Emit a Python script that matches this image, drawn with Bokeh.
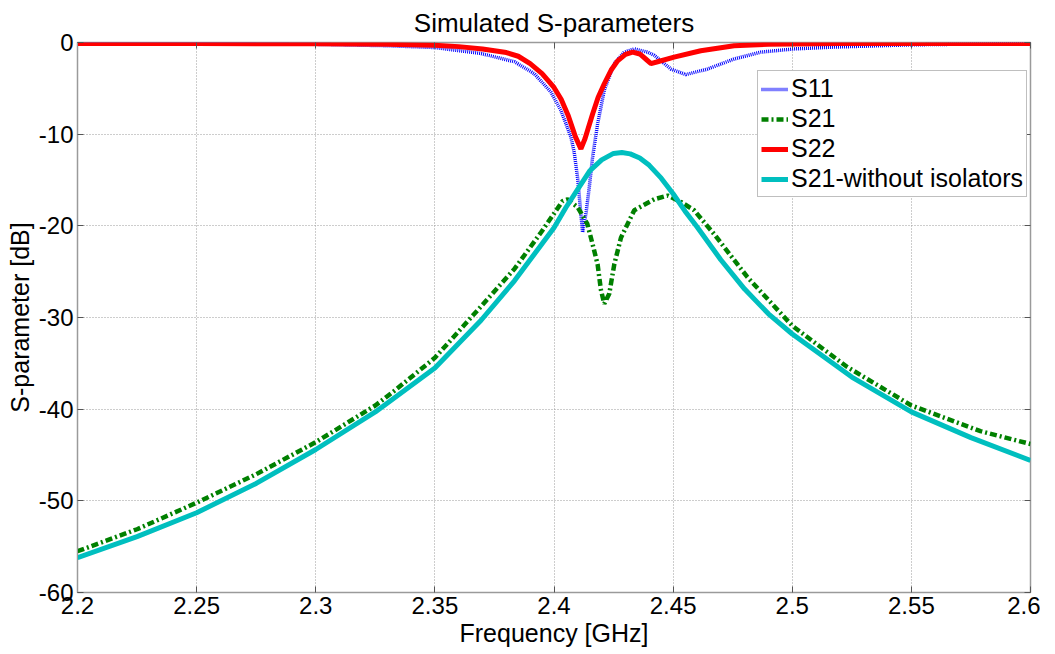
from bokeh.plotting import figure
from bokeh.models import FixedTicker, LinearAxis, Legend, LegendItem, Range1d
from bokeh.embed import file_html
from bokeh.resources import INLINE

# ---------------- data ----------------
s11_f = [2.20, 2.25, 2.30, 2.33, 2.35, 2.3694, 2.3834, 2.3917, 2.3987, 2.4029, 2.4071,
         2.4085, 2.4100, 2.4112, 2.4120, 2.4135, 2.4148, 2.4162, 2.4183, 2.4211, 2.4253,
         2.4295, 2.4337, 2.4393, 2.4421, 2.4491, 2.4553, 2.4644, 2.4756, 2.4868, 2.5008,
         2.5175, 2.55, 2.60]
s11_db = [-0.05, -0.1, -0.2, -0.35, -0.55, -1.2, -2.1, -3.4, -5.4, -7.4, -10.3,
          -12.0, -15.0, -18.5, -20.7, -18.5, -15.8, -12.5, -8.9, -5.2, -2.3,
          -1.05, -0.7, -1.05, -1.4, -2.9, -3.5, -2.9, -1.8, -1.05, -0.7,
          -0.5, -0.25, -0.1]

s21_f = [2.20, 2.225, 2.25, 2.275, 2.30, 2.325, 2.333, 2.35, 2.3652, 2.3834, 2.3946,
         2.4036, 2.4057, 2.41, 2.414, 2.4162, 2.4183, 2.4197, 2.4211, 2.4232, 2.4253,
         2.4281, 2.4337, 2.4421, 2.4477, 2.4533, 2.4588, 2.4672, 2.4812, 2.50, 2.5231,
         2.55, 2.579, 2.60]
s21_db = [-55.5, -53.1, -50.2, -47.1, -43.6, -39.6, -38.0, -34.4, -30.0, -24.7, -20.7,
          -17.3, -17.1, -18.0, -19.8, -22.0, -24.2, -27.0, -28.5, -27.4, -24.2,
          -21.3, -18.3, -17.1, -16.7, -17.4, -18.3, -20.9, -25.6, -30.9, -35.4,
          -39.6, -42.4, -43.8]

s22_f = [2.20, 2.25, 2.30, 2.33, 2.35, 2.36, 2.37, 2.38, 2.385, 2.39, 2.395, 2.40,
         2.403, 2.406, 2.409, 2.4113, 2.413, 2.4162, 2.4185, 2.4211, 2.424, 2.4267,
         2.43, 2.433, 2.436, 2.4385, 2.4407, 2.4435, 2.4504, 2.4616, 2.4756, 2.49,
         2.52, 2.56, 2.60]
s22_db = [-0.1, -0.1, -0.15, -0.2, -0.3, -0.45, -0.7, -1.1, -1.5, -2.3, -3.4, -4.9,
          -6.2, -8.0, -10.3, -11.6, -10.5, -7.8, -6.0, -4.5, -3.0, -2.0,
          -1.3, -1.05, -1.25, -1.8, -2.3, -2.1, -1.6, -0.9, -0.35, -0.2,
          -0.12, -0.1, -0.1]

s21wo_f = [2.20, 2.225, 2.25, 2.275, 2.30, 2.325, 2.35, 2.3694, 2.3834, 2.40, 2.405,
           2.41, 2.415, 2.42, 2.425, 2.4285, 2.432, 2.436, 2.44, 2.445, 2.45,
           2.455, 2.46, 2.47, 2.48, 2.49, 2.50, 2.525, 2.55, 2.575, 2.60]
s21wo_db = [-56.2, -53.9, -51.3, -48.1, -44.4, -40.3, -35.5, -30.3, -26.0, -20.2, -18.0,
            -16.0, -14.0, -12.8, -12.1, -12.0, -12.15, -12.6, -13.4, -14.8, -16.5,
            -18.4, -20.1, -23.7, -26.9, -29.6, -31.8, -36.5, -40.3, -43.1, -45.6]

series_names = ["S11", "S21", "S22", "S21-without isolators"]
x_ticks = [2.2, 2.25, 2.3, 2.35, 2.4, 2.45, 2.5, 2.55, 2.6]
x_tick_labels = ["2.2", "2.25", "2.3", "2.35", "2.4", "2.45", "2.5", "2.55", "2.6"]
y_ticks = [-60, -50, -40, -30, -20, -10, 0]
y_tick_labels = ["-60", "-50", "-40", "-30", "-20", "-10", "0"]

FONT = "Liberation Sans"
FS = "25px"

p = figure(frame_width=953, frame_height=550, output_backend="svg", toolbar_location=None,
           x_range=Range1d(2.2, 2.6), y_range=Range1d(-60, 0),
           min_border_left=77, min_border_top=42, min_border_right=10, min_border_bottom=5)

p.title.text = "Simulated S-parameters"
p.title.align = "center"
p.title.text_font = FONT
p.title.text_font_size = "26px"
p.title.text_font_style = "normal"
p.title.text_color = "black"
p.title.standoff = 10

p.background_fill_color = "white"
p.border_fill_color = "white"
p.outline_line_color = "#9a9a9a"
p.outline_line_width = 1.5

for ax, ticks, labels in [(p.xaxis[0], x_ticks, x_tick_labels), (p.yaxis[0], y_ticks, y_tick_labels)]:
    ax.ticker = FixedTicker(ticks=ticks)
    ax.major_label_overrides = {t: l for t, l in zip(ticks, labels)}
    ax.major_label_text_font = FONT
    ax.major_label_text_font_size = "24px"
    ax.major_label_text_color = "black"
    ax.axis_label_text_font = FONT
    ax.axis_label_text_font_size = FS
    ax.axis_label_text_font_style = "normal"
    ax.axis_label_text_color = "black"
    ax.axis_line_color = "#9a9a9a"
    ax.major_tick_in = 6
    ax.major_tick_out = 0
    ax.major_tick_line_color = "#555555"
    ax.minor_tick_line_color = None
    ax.major_label_standoff = 4
    ax.axis_label_standoff = 2

p.xaxis.axis_label = "Frequency [GHz]"
p.yaxis.axis_label = "S-parameter [dB]"

# ticks on the top and right sides (MATLAB box style), without labels
for side, ticks in [("right", y_ticks), ("above", x_ticks)]:
    ax2 = LinearAxis(ticker=FixedTicker(ticks=ticks))
    ax2.major_label_overrides = {t: "" for t in ticks}
    ax2.major_label_standoff = 0
    ax2.axis_line_color = None
    ax2.major_tick_in = 6
    ax2.major_tick_out = 0
    ax2.major_tick_line_color = "#555555"
    ax2.minor_tick_line_color = None
    p.add_layout(ax2, side)

p.xgrid.ticker = FixedTicker(ticks=x_ticks)
p.ygrid.ticker = FixedTicker(ticks=y_ticks)
for g in (p.xgrid[0], p.ygrid[0]):
    g.grid_line_color = "#9a9a9a"
    g.grid_line_dash = "1 2"
    g.grid_line_width = 1

r1 = p.line(s11_f, s11_db, line_color="#0000ff", line_width=3.5, line_dash="1 1")
r2 = p.line(s21_f, s21_db, line_color="#008000", line_width=4.5, line_dash="7 3 2 3")
r3 = p.line(s22_f, s22_db, line_color="#ff0000", line_width=5)
r4 = p.line(s21wo_f, s21wo_db, line_color="#00bfbf", line_width=5)

legend = Legend(items=[LegendItem(label=n, renderers=[r]) for n, r in zip(series_names, [r1, r2, r3, r4])],
                location=(680, 395))
legend.label_text_font = FONT
legend.label_text_font_size = FS
legend.label_text_color = "black"
legend.glyph_width = 27
legend.glyph_height = 20
legend.label_standoff = 3
legend.spacing = 1
legend.padding = 3
legend.margin = 0
legend.border_line_color = "#808080"
legend.border_line_width = 1
legend.background_fill_color = "white"
legend.background_fill_alpha = 1
p.add_layout(legend)

open("out.html", "w").write(file_html(p, INLINE))
